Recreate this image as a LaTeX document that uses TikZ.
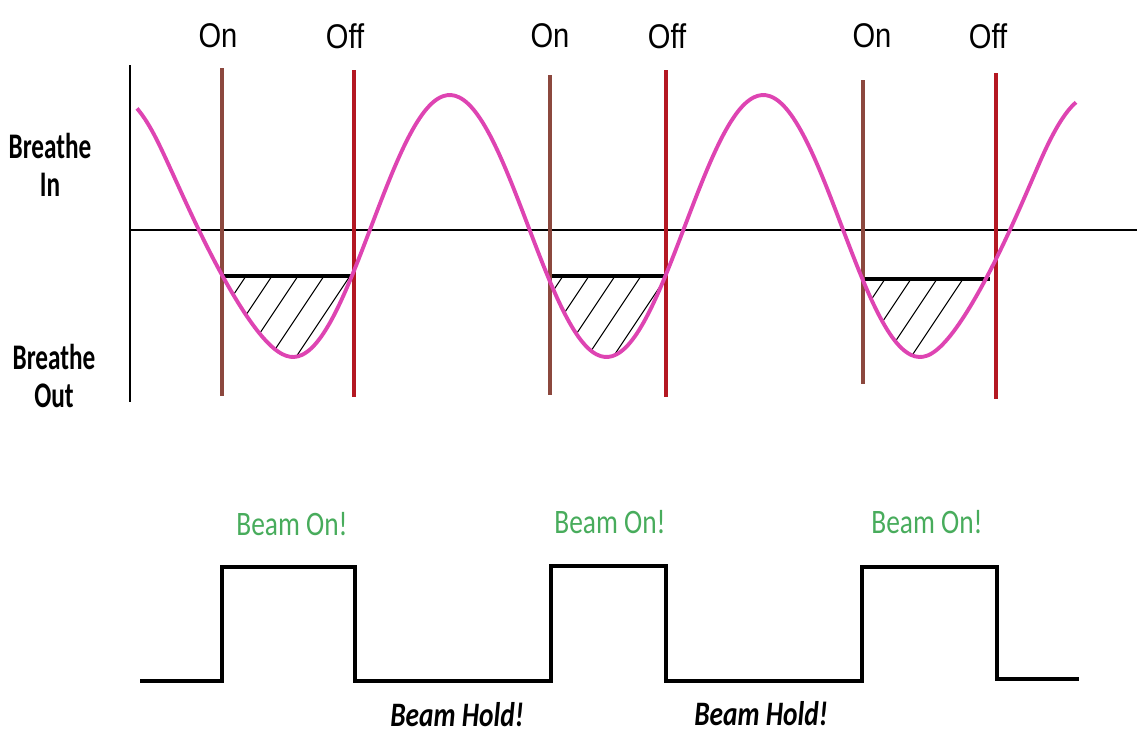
\documentclass[tikz,border=0pt]{standalone}
\usepackage{fontspec}
\newfontfamily\gatefont[FakeStretch=0.85]{Liberation Sans}
\newfontfamily\calfont[FakeStretch=0.8]{Carlito}
\newfontfamily\sidefont[FakeStretch=0.7]{Carlito}
\definecolor{wavepink}{RGB}{222,68,178}
\definecolor{onbrown}{RGB}{140,72,62}
\definecolor{offred}{RGB}{180,24,34}
\definecolor{beamgreen}{RGB}{72,172,92}
% breathing curve, in pixel units
\newcommand\breathwave{plot[domain=137:1076,samples=240,smooth] (\x,{breathy(\x)})}
\begin{document}
\begin{tikzpicture}[x=0.2mm,y=-0.2mm,
  declare function={
    clampone(\t)=max(0,min(1,\t));
    sstep(\t)=3*clampone(\t)*clampone(\t)-2*clampone(\t)*clampone(\t)*clampone(\t);
    breathy(\x)=226+131*cos((\x+22*(1-sstep((\x-160)/130))-16*sstep((\x-930)/110)-293)*1.14833);},
  axis/.style={line width=0.8pt},
  wave/.style={wavepink,line width=2.2pt},
  gateon/.style={onbrown,line width=1.8pt},
  gateoff/.style={offred,line width=1.8pt},
  level/.style={line width=2.6pt},
  hatch/.style={line width=0.6pt},
  pulse/.style={line width=2pt,line join=miter},
  gatelabel/.style={font=\gatefont\fontsize{19.5}{23}\selectfont,inner sep=0pt},
  sidelabel/.style={font=\sidefont\bfseries\fontsize{20.5}{22}\selectfont,align=center,inner sep=0pt},
  beamon/.style={font=\calfont\fontsize{19.5}{23}\selectfont,text=beamgreen,inner sep=0pt},
  beamhold/.style={font=\calfont\bfseries\itshape\fontsize{19.5}{23}\selectfont,inner sep=0pt}]
\useasboundingbox (0,0) rectangle (1137,735);
% axes
\draw[axis](130,65)--(130,402);
\draw[axis](130,230)--(1137,230);
\node[sidelabel] (in) at (50,165) {Breathe\\In};
\node[sidelabel] (out) at (54,376) {Breathe\\Out};
% hatched gating windows
\foreach \a/\b/\lev/\h in {222/353/276/246, 550/665/276/563, 863/990/279/885}{
\begin{scope}
\clip \breathwave -- (1076,0) -- (137,0) -- cycle;
\clip (\a,\lev) rectangle (\b,400);
\foreach \k in {0,...,5}
  \draw[hatch](\h+26*\k,\lev)--++(-80,120);
\end{scope}
\draw[level](\a,\lev)--(\b,\lev);
}
% gate lines
\foreach \x/\t/\bt/\lx [count=\i] in {222/68/396/218, 550/75/395/550, 863/80/384/872}{
  \node[gatelabel] (on\i) at (\lx,36) {On};
  \draw[gateon](\x,\t)--(\x,\bt);
}
\foreach \x/\t/\bt/\lx [count=\i] in {354/70/397/345, 666/70/397/667, 996/73/399/988}{
  \node[gatelabel] (off\i) at (\lx,36) {Off};
  \draw[gateoff](\x,\t)--(\x,\bt);
}
\draw[wave] \breathwave;
% beam signal
\draw[pulse](140,681)--(222,681)--(222,567)--(355,567)--(355,681)--(551,681)--(551,566)--(666,566)--(666,681)--(862,681)--(862,567)--(997,567)--(997,679)--(1079,679);
\node[beamon] (bon1) at (292,524) {Beam On!};
\node[beamon] (bon2) at (610,522) {Beam On!};
\node[beamon] (bon3) at (927,522) {Beam On!};
\node[beamhold] (bhold1) at (457,715) {Beam Hold!};
\node[beamhold] (bhold2) at (761,714) {Beam Hold!};
\end{tikzpicture}
\end{document}
